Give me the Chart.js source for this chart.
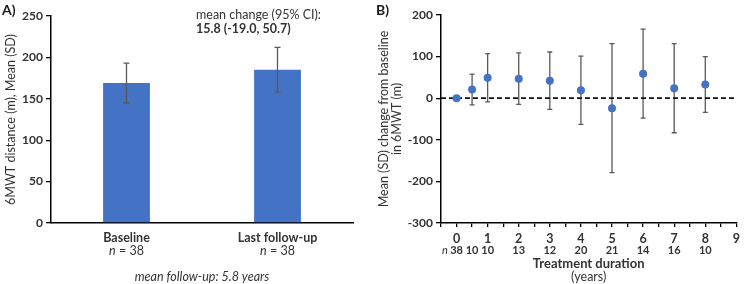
<!DOCTYPE html>
<html><head><meta charset="utf-8">
<script src="https://cdn.jsdelivr.net/npm/chart.js@4.4.1/dist/chart.umd.min.js"></script>
<style>
html,body{margin:0;padding:0;background:#fff;}
#wrap{position:relative;width:744px;height:284px;}
#c1{position:absolute;left:0;top:0;}
#c2{position:absolute;left:370px;top:0;}
</style></head>
<body><div id="wrap">
<canvas id="c1" width="370" height="284" style="width:370px;height:284px"></canvas>
<canvas id="c2" width="374" height="284" style="width:374px;height:284px"></canvas>
</div>
<script>
// ---- Panel A data ----
const groups = ['Baseline', 'Last follow-up'];
const groupN = [38, 38];
const meanDist = [169, 185];
const sdDist = [24, 27];
const distTicks = [0, 50, 100, 150, 200, 250];
// ---- Panel B data ----
const years = [0, 0.5, 1, 2, 3, 4, 5, 6, 7, 8];
const nPatients = [38, 10, 10, 13, 12, 20, 21, 14, 16, 10];
const meanChange = [0, 21, 49, 47, 42, 19, -24, 59, 24, 33];
const sdChange = [0, 37, 58, 62, 69, 82, 155, 107, 107, 67];
const changeTicks = [-300, -200, -100, 0, 100, 200];
const yearTicks = [0, 1, 2, 3, 4, 5, 6, 7, 8, 9];

const FONT = 'Lato, "Open Sans", sans-serif';
const TXT = '#333333';
const BLUE = '#4472C4';
const ERR = '#595959';

function drawErr(ctx, x, yTop, yBot, cap, color, w) {
  ctx.save();
  ctx.strokeStyle = color; ctx.lineWidth = w;
  ctx.beginPath();
  ctx.moveTo(x, yTop); ctx.lineTo(x, yBot);
  ctx.moveTo(x - cap, yTop); ctx.lineTo(x + cap, yTop);
  ctx.moveTo(x - cap, yBot); ctx.lineTo(x + cap, yBot);
  ctx.stroke();
  ctx.restore();
}

// ---------- Panel A ----------
const pluginA = {
  id: 'pA',
  afterDatasetsDraw(chart) {
    const ctx = chart.ctx, xs = chart.scales.x, ys = chart.scales.y;
    meanDist.forEach((m, i) => {
      const x = xs.getPixelForValue(i);
      drawErr(ctx, x, ys.getPixelForValue(m + sdDist[i]), ys.getPixelForValue(m - sdDist[i]), 3, ERR, 1.3);
    });
  },
  afterDraw(chart) {
    const ctx = chart.ctx, xs = chart.scales.x, a = chart.chartArea;
    ctx.save();
    ctx.fillStyle = '#1a1a1a';
    ctx.textBaseline = 'middle';
    ctx.textAlign = 'left';
    ctx.font = 'bold 14px ' + FONT;
    ctx.fillText('A)', 2, 10);
    ctx.fillStyle = TXT;
    groups.forEach((g, i) => {
      const x = xs.getPixelForValue(i);
      ctx.textAlign = 'center';
      ctx.font = 'bold 12.5px ' + FONT;
      ctx.fillText(g, x, 238);
      ctx.font = 'italic 12.5px ' + FONT;
      const w1 = ctx.measureText('n').width;
      ctx.font = '12.5px ' + FONT;
      const rest = ' = ' + groupN[i];
      const w2 = ctx.measureText(rest).width;
      const x0 = x - (w1 + w2) / 2;
      ctx.textAlign = 'left';
      ctx.font = 'italic 12.5px ' + FONT;
      ctx.fillText('n', x0, 251);
      ctx.font = '12.5px ' + FONT;
      ctx.fillText(rest, x0 + w1, 251);
    });
    ctx.textAlign = 'left';
    ctx.font = '12.5px ' + FONT;
    ctx.fillText('mean change (95% CI):', 196, 15);
    ctx.font = 'bold 12.5px ' + FONT;
    ctx.fillText('15.8 (-19.0, 50.7)', 196, 29);
    ctx.textAlign = 'center';
    ctx.font = 'italic 12.5px ' + FONT;
    ctx.fillText('mean follow-up: 5.8 years', (a.left + a.right) / 2, 277);
    ctx.restore();
  }
};

new Chart(document.getElementById('c1'), {
  type: 'bar',
  data: { labels: groups, datasets: [{ data: meanDist, backgroundColor: BLUE, barPercentage: 0.31, categoryPercentage: 1 }] },
  options: {
    responsive: false, animation: false,
    layout: { padding: { left: 0, top: 16, right: 17, bottom: 0 } },
    plugins: { legend: { display: false }, tooltip: { enabled: false } },
    scales: {
      x: {
        grid: { display: false },
        border: { display: true, color: '#000', width: 1.5 },
        ticks: { display: false },
        afterFit(s) { s.height = 61; }
      },
      y: {
        min: 0, max: 250,
        afterBuildTicks(s) { s.ticks = distTicks.map(v => ({ value: v })); },
        grid: { display: true, drawOnChartArea: false, drawTicks: true, tickLength: 5, color: '#000', lineWidth: 1.3 },
        border: { display: true, color: '#000', width: 1.5 },
        ticks: { color: TXT, font: { family: FONT, size: 12, weight: 'bold' }, padding: 3 },
        title: { display: true, text: '6MWT distance (m), Mean (SD)', color: TXT, font: { family: FONT, size: 12.5 }, padding: { top: 3, bottom: 0 } },
        afterFit(s) { s.width = 51; }
      }
    }
  },
  plugins: [pluginA]
});

// ---------- Panel B ----------
const pluginB = {
  id: 'pB',
  beforeDatasetsDraw(chart) {
    const ctx = chart.ctx, xs = chart.scales.x, ys = chart.scales.y;
    years.forEach((yr, i) => {
      if (sdChange[i] <= 0) return;
      drawErr(ctx, xs.getPixelForValue(yr), ys.getPixelForValue(meanChange[i] + sdChange[i]), ys.getPixelForValue(meanChange[i] - sdChange[i]), 2.5, ERR, 1.3);
    });
  },
  afterDraw(chart) {
    const ctx = chart.ctx, xs = chart.scales.x, a = chart.chartArea;
    ctx.save();
    ctx.textBaseline = 'middle';
    ctx.fillStyle = '#1a1a1a';
    ctx.textAlign = 'left';
    ctx.font = 'bold 14px ' + FONT;
    ctx.fillText('B)', 6, 10);
    ctx.fillStyle = TXT;
    ctx.font = 'italic 11px ' + FONT;
    ctx.textAlign = 'center';
    ctx.fillText('n', 75, 250);
    ctx.font = 'bold 11px ' + FONT;
    years.forEach((yr, i) => {
      ctx.fillText(String(nPatients[i]), xs.getPixelForValue(yr), 250);
    });
    const cx = (a.left + a.right) / 2;
    ctx.font = 'bold 13px ' + FONT;
    ctx.fillText('Treatment duration', cx, 264);
    ctx.font = '12.5px ' + FONT;
    ctx.fillText('(years)', cx, 277);
    ctx.restore();
  }
};

new Chart(document.getElementById('c2'), {
  type: 'scatter',
  data: {
    datasets: [
      { type: 'scatter', data: years.map((x, i) => ({ x, y: meanChange[i] })), backgroundColor: BLUE, borderWidth: 0, pointRadius: 4, order: 1 },
      { type: 'line', data: [{ x: -0.5, y: 0 }, { x: 9, y: 0 }], borderColor: '#111', borderWidth: 1.8, borderDash: [5, 3], pointRadius: 0, fill: false, order: 2 }
    ]
  },
  options: {
    responsive: false, animation: false,
    layout: { padding: { left: 0, top: 15, right: 6, bottom: 0 } },
    plugins: { legend: { display: false }, tooltip: { enabled: false } },
    scales: {
      x: {
        type: 'linear', min: -0.5, max: 9,
        afterBuildTicks(s) {
          const t = [];
          for (let v = -0.5; v <= 9.0001; v += 0.5) t.push({ value: v });
          s.ticks = t;
        },
        grid: { display: true, drawOnChartArea: false, drawTicks: true, tickLength: 4, color: '#000', lineWidth: 1.3 },
        border: { display: true, color: '#000', width: 1.5 },
        ticks: {
          autoSkip: false, maxRotation: 0, color: TXT, padding: 4,
          font: { family: FONT, size: 12.5, weight: 'bold' },
          callback: v => (yearTicks.includes(v) ? String(v) : '')
        },
        afterFit(s) { s.height = 61; }
      },
      y: {
        min: -300, max: 200,
        afterBuildTicks(s) { s.ticks = changeTicks.map(v => ({ value: v })); },
        grid: { display: true, drawOnChartArea: false, drawTicks: true, tickLength: 5, color: '#000', lineWidth: 1.3 },
        border: { display: true, color: '#000', width: 1.5 },
        ticks: { color: TXT, font: { family: FONT, size: 12, weight: 'bold' }, padding: 3 },
        title: { display: true, text: ['Mean (SD) change from baseline', 'in 6MWT (m)'], color: TXT, font: { family: FONT, size: 12.5, lineHeight: 1.05 }, padding: { top: 7, bottom: 0 } },
        afterFit(s) { s.width = 71; }
      }
    }
  },
  plugins: [pluginB]
});
</script>
</body></html>
